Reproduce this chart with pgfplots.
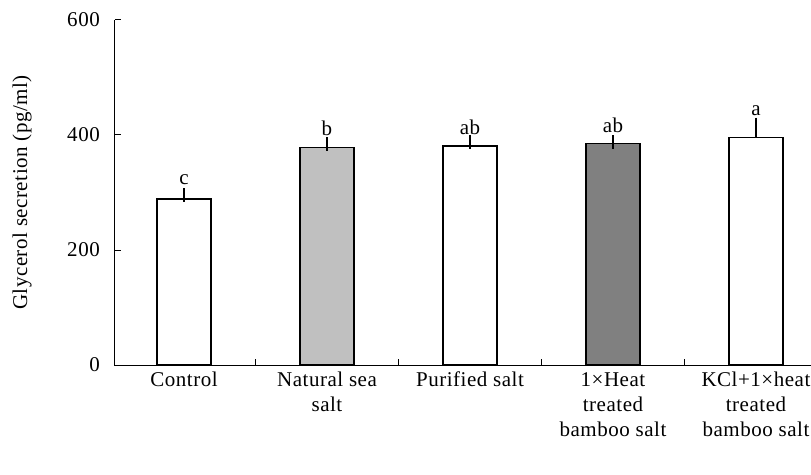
\documentclass[border=0pt]{standalone}
\usepackage{fontspec}
\setmainfont{Liberation Serif}[LetterSpace=2.5]
\usepackage{pgfplots}
\pgfplotsset{compat=1.18}

\begin{document}
\fontsize{21}{25}\selectfont
\begin{tikzpicture}[x=1pt,y=1pt]
\useasboundingbox (-115,-109) rectangle (696,365);
\begin{axis}[
  at={(0,0)}, anchor=south west,
  scale only axis,
  width=696pt, height=345pt,
  xmin=-0.4825, xmax=4.385,
  ymin=0, ymax=600,
  axis line style={draw=none},
  xtick pos=bottom, ytick pos=left,
  ytick={0,200,400,600},
  xtick={0,1,2,3,4},
  xticklabels={Control, Natural sea\\salt, Purified salt, 1×Heat\\treated\\bamboo salt, KCl+1×heat\\treated\\bamboo salt},
  xticklabel style={align=center, font=\fontsize{21}{25}\selectfont},
  yticklabel style={font=\fontsize{21}{25}\selectfont, xshift=-8pt},
  /pgf/number format/assume math mode=true,
  major x tick style={draw=none},
  minor xtick={0.5,1.5,2.5,3.5},
  minor tick length=6.5pt,
  major tick length=6.5pt,
  tick style={line width=1pt, black},
  ylabel={Glycerol secretion (pg/ml)},
  every axis y label/.style={at={(axis description cs:-0.1336,0.5)}, rotate=90, anchor=center, font=\fontsize{21}{25}\selectfont},
  bar width=0.378,
  clip=false,
  tick align=inside,
]
% left and bottom axis lines
\draw[line width=1pt, black] (rel axis cs:0,1) -- (rel axis cs:0,0) -- (rel axis cs:1,0);
\addplot[ybar, bar shift=0pt, draw=black, line width=1.5pt, fill=white,
  error bars/.cd, y dir=plus, y explicit,
  error bar style={line width=1.5pt}, error mark options={line width=1.5pt, mark size=7pt}]
  coordinates {(0,289) +- (0,6)};
\addplot[ybar, bar shift=0pt, draw=black, line width=1.5pt, fill={rgb,255:red,192;green,192;blue,192},
  error bars/.cd, y dir=plus, y explicit,
  error bar style={line width=1.5pt}, error mark options={line width=1.5pt, mark size=7pt}]
  coordinates {(1,378) +- (0,6)};
\addplot[ybar, bar shift=0pt, draw=black, line width=1.5pt, fill=white,
  error bars/.cd, y dir=plus, y explicit,
  error bar style={line width=1.5pt}, error mark options={line width=1.5pt, mark size=7pt}]
  coordinates {(2,381) +- (0,6)};
\addplot[ybar, bar shift=0pt, draw=black, line width=1.5pt, fill={rgb,255:red,128;green,128;blue,128},
  error bars/.cd, y dir=plus, y explicit,
  error bar style={line width=1.5pt}, error mark options={line width=1.5pt, mark size=7pt}]
  coordinates {(3,385) +- (0,2)};
\addplot[ybar, bar shift=0pt, draw=black, line width=1.5pt, fill=white,
  error bars/.cd, y dir=plus, y explicit,
  error bar style={line width=1.5pt}, error mark options={line width=1.5pt, mark size=7pt}]
  coordinates {(4,396) +- (0,22)};
% significance letters
\node at (axis cs:0,322) {c};
\node at (axis cs:1,412) {b};
\node at (axis cs:2,414) {ab};
\node at (axis cs:3,417) {ab};
\node at (axis cs:4,443) {a};
\end{axis}
\end{tikzpicture}
\end{document}
